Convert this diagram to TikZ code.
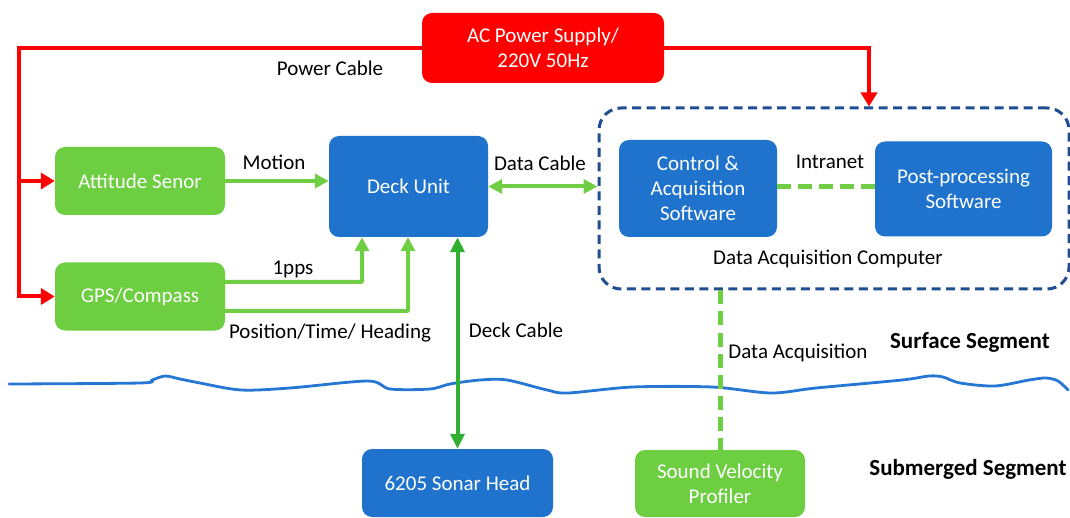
\documentclass[tikz,border=0pt]{standalone}
\usepackage{fontspec}
\setmainfont{Carlito}
\usetikzlibrary{arrows.meta}
\definecolor{redc}{RGB}{255,0,0}
\definecolor{gbox}{RGB}{108,206,64}
\definecolor{gline}{RGB}{112,206,68}
\definecolor{dgline}{RGB}{48,176,48}
\definecolor{bbox}{RGB}{31,115,204}
\definecolor{dblue}{RGB}{30,78,145}
\definecolor{wblue}{RGB}{38,118,212}
\begin{document}
\begin{tikzpicture}[x=1pt,y=-1pt,
  every node/.style={font=\fontsize{21}{25}\selectfont},
  boxbase/.style={rounded corners=10pt, align=center, text=white, inner sep=0pt},
  redbox/.style={boxbase, fill=redc},
  greenbox/.style={boxbase, fill=gbox},
  bluebox/.style={boxbase, fill=bbox},
  lbl/.style={text=black, inner sep=0pt},
  blbl/.style={text=black, inner sep=0pt, font=\fontsize{23}{27}\selectfont\bfseries},
  redline/.style={draw=redc, line width=4pt},
  redarrow/.style={redline, -{Triangle[length=14pt,width=16pt]}},
  garrow/.style={draw=gline, line width=4pt, -{Triangle[length=14pt,width=14pt]}},
  gdarrow/.style={draw=gline, line width=4pt, {Triangle[length=14pt,width=14pt]}-{Triangle[length=14pt,width=14pt]}},
  dgdarrow/.style={draw=dgline, line width=4pt, {Triangle[length=15pt,width=14pt]}-{Triangle[length=15pt,width=14pt]}},
  gdash/.style={draw=gline, line width=5pt, dash pattern=on 14pt off 7pt},
  dacbox/.style={draw=dblue, line width=3pt, dash pattern=on 9pt off 5.5pt, rounded corners=22pt, inner sep=0pt}
]
\useasboundingbox (0,0) rectangle (1070,518);

% water line
\draw[wblue, line width=2.8pt, line cap=round] plot[smooth, tension=0.5] coordinates {
 (9,384) (140,383) (152,380) (165,376) (180,379) (200,383) (241,390) (290,388) (368,381)
 (390,389) (430,389) (450,384) (480,380) (507,380) (547,390) (568,393) (633,387) (712,387)
 (771,393) (816,388) (902,380) (929,376) (943,377) (960,383) (995,386) (1029,380) (1046,378) (1058,381) (1068,390)};

% nodes
\node[redbox, minimum width=242pt, minimum height=70pt] (ac) at (543,48) {AC Power Supply/\\220V 50Hz};
\node[greenbox, minimum width=170pt, minimum height=68pt] (att) at (140,181) {Attitude Senor};
\node[greenbox, minimum width=170pt, minimum height=68pt] (gps) at (140,296.5) {GPS/Compass};
\node[bluebox, minimum width=159pt, minimum height=101pt] (deck) at (408.5,186.5) {Deck Unit};
\node[dacbox, minimum width=470pt, minimum height=181pt] (dac) at (834,198.5) {};
\node[bluebox, minimum width=158pt, minimum height=97pt] (ctrl) at (698,188.5) {Control \&\\Acquisition\\Software};
\node[bluebox, minimum width=177pt, minimum height=95pt] (post) at (963.5,189) {Post-processing\\Software};
\node[bluebox, minimum width=191pt, minimum height=68pt] (sonar) at (457.5,483) {6205 Sonar Head};
\node[greenbox, minimum width=170pt, minimum height=67pt] (svp) at (720,483.5) {Sound Velocity\\Profiler};

% labels
\node[lbl] (lpc) at (330,68) {Power Cable};
\node[lbl] (lmo) at (274,162) {Motion};
\node[lbl] (ldc) at (540,163) {Data Cable};
\node[lbl] (lin) at (830,162) {Intranet};
\node[lbl] (ldac) at (828,259) {Data Acquisition Computer};
\node[lbl] (lpps) at (293,269) {1pps};
\node[lbl] (lpos) at (330,333) {Position/Time/ Heading};
\node[lbl] (ldk) at (516,330) {Deck Cable};
\node[lbl] (lda) at (798,353) {Data Acquisition};
\node[blbl] (lss) at (970,342) {Surface Segment};
\node[blbl] (lsub) at (968,469) {Submerged Segment};

% coordinates
\coordinate (lc) at (19,0);
\coordinate (rc) at (869,0);
\coordinate (p1) at (362,0);
\coordinate (p2) at (408,0);

% red power lines
\draw[redarrow] (ac.west) -| (lc |- gps.west) -- (gps.west);
\draw[redarrow] (lc |- att.west) -- (att.west);
\draw[redarrow] (ac.east) -| (rc |- dac.north);

% green connectors
\draw[garrow] (att.east) -- (att.east -| deck.west);
\draw[gdarrow] (deck.east) -- (deck.east -| dac.west);
\draw[gdash] (ctrl.east) ++(0,-2) -- (post.west |- 0,186.5);
\draw[garrow, rounded corners=1pt] (gps.east) ++(0,-14.5) -| (p1 |- deck.south);
\draw[garrow, rounded corners=1pt] (gps.east) ++(0,14.5) -| (p2 |- deck.south);
\draw[dgdarrow] (sonar.north |- deck.south) -- (sonar.north);
\draw[gdash] (dac.south -| svp.north) -- (svp.north);
\end{tikzpicture}
\end{document}
